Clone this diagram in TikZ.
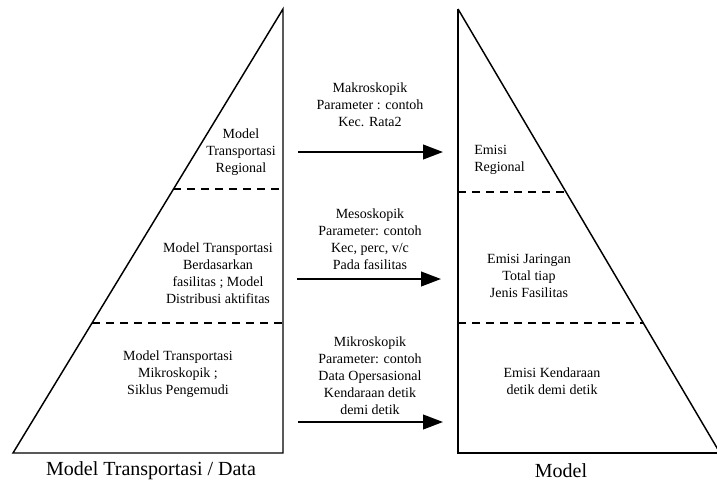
\documentclass[tikz,border=0pt]{standalone}
\usepackage{fontspec}
\setmainfont{Liberation Serif}
\usetikzlibrary{calc,arrows.meta}
\tikzset{
	teks/.style={align=center,font=\fontsize{10.5}{12.75}\selectfont,inner sep=0pt},
	garis/.style={line width=1.1pt},
	putus/.style={line width=0.9pt,dash pattern=on 6pt off 4.5pt},
	panah/.style={line width=1.5pt,-{Triangle[length=15pt,width=11pt]}},
	judul/.style={font=\fontsize{15}{18}\selectfont,inner sep=0pt}
}
\begin{document}
\begin{tikzpicture}[x=0.75pt,y=-0.75pt]
	\useasboundingbox (0,0) rectangle (717,482);
	% segitiga kiri
	\path (283,9) coordinate (A) (13,453) coordinate (B) (283,453) coordinate (C);
	\draw[garis,line join=miter] (A) -- (B) -- (C) -- cycle;
	\draw[putus] (173,189) -- (283,189);
	\draw[putus] (92,323) -- (283,323);
	% segitiga kanan
	\path (458,9) coordinate (D) (458,453) coordinate (E) (720,453) coordinate (F);
	\draw[garis,line join=miter] (D) -- (E) -- (F);
	\draw[garis] (D) -- (F);
	\draw[putus] (458,192) -- (565,192);
	\draw[putus] (458,323) -- (644,323);
	% teks kiri
	\node[teks] (regL) at (241,152) {Model\\Transportasi\\Regional};
	\node[teks] (fasL) at (218,273.5) {Model Transportasi\\Berdasarkan\\fasilitas ; Model\\Distribusi aktifitas};
	\node[teks] (mikL) at (178,374) {Model Transportasi\\Mikroskopik ;\\Siklus Pengemudi};
	% teks tengah
	\node[teks] (makro) at (370,105) {Makroskopik\\Parameter : contoh\\Kec. Rata2};
	\node[teks] (meso) at (370,239.5) {Mesoskopik\\Parameter: contoh\\Kec, perc, v/c\\Pada fasilitas};
	\node[teks] (mikro) at (370,376) {Mikroskopik\\Parameter: contoh\\Data Opersasional\\Kendaraan detik\\demi detik};
	% teks kanan
	\node[teks,align=left,anchor=west] (regR) at (474,160) {Emisi\\Regional};
	\node[teks] (fasR) at (529,275.5) {Emisi Jaringan\\Total tiap\\Jenis Fasilitas};
	\node[teks] (mikR) at (552,381) {Emisi Kendaraan\\detik demi detik};
	% panah
	\path (298,152) coordinate (p1) (443,152) coordinate (q1);
	\path (297,279) coordinate (p2) (441,279) coordinate (q2);
	\path (298,422) coordinate (p3) (443,422) coordinate (q3);
	\draw[panah] (p1) -- (q1);
	\draw[panah] (p2) -- (q2);
	\draw[panah] (p3) -- (q3);
	% judul bawah
	\node[judul] (jdlL) at (151,471) {Model Transportasi / Data};
	\node[judul] (jdlR) at (561,471) {Model};
\end{tikzpicture}
\end{document}
